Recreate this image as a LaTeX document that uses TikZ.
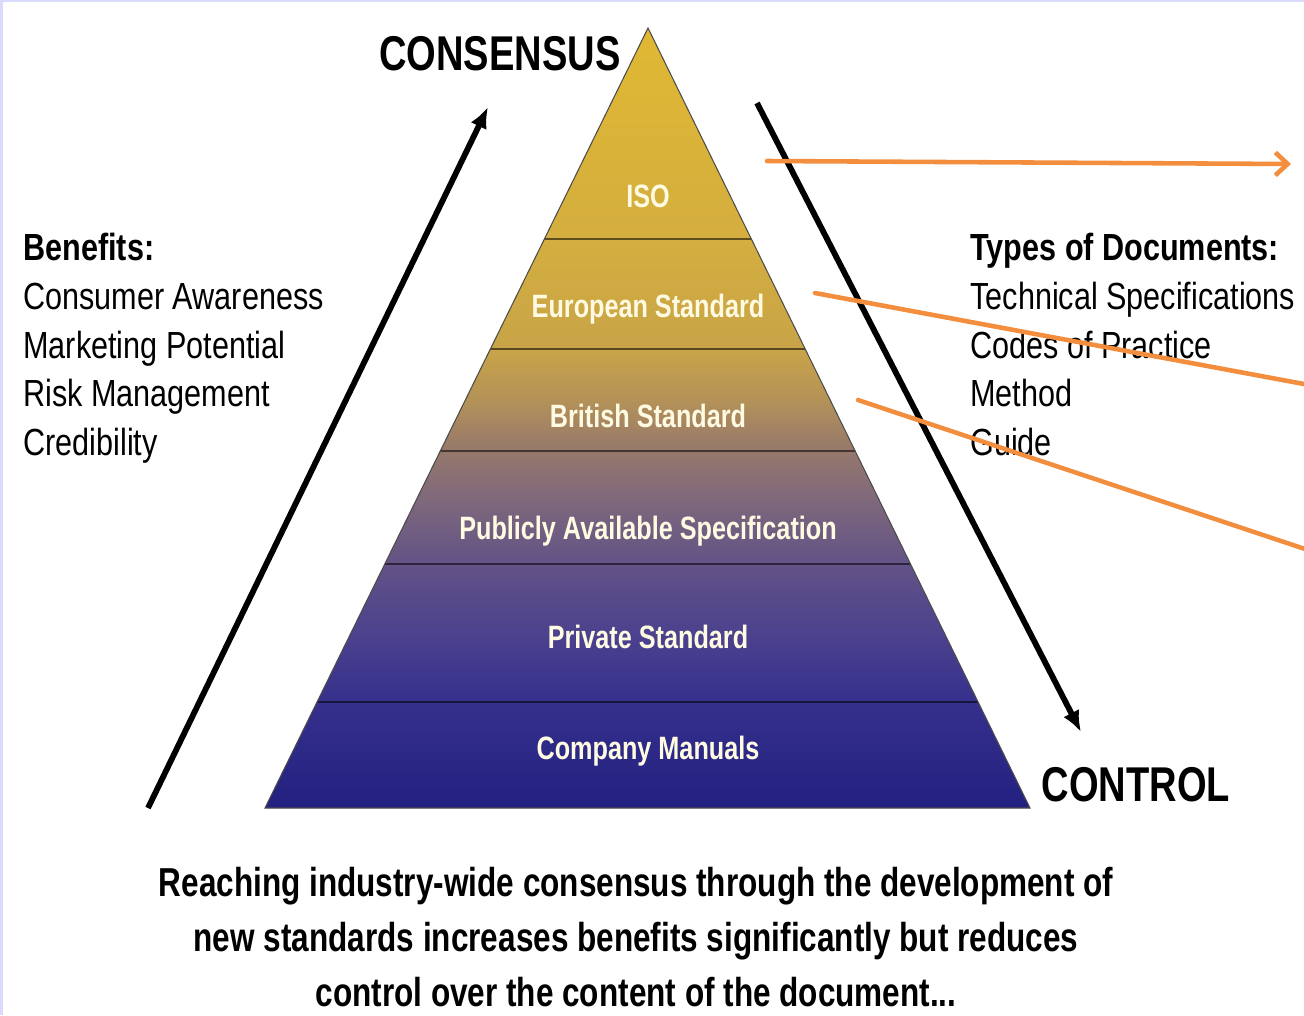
\documentclass[tikz,border=0pt]{standalone}
\usepackage{fontspec}
\setmainfont{Liberation Sans}
\newfontfamily\condfont[FakeStretch=0.78]{Liberation Sans}
\newfontfamily\listfont[FakeStretch=0.81]{Liberation Sans}
\usepackage{tikz}
\usetikzlibrary{shapes,arrows,arrows.meta,positioning}

\definecolor{frame}{RGB}{218,218,252}
\definecolor{pyrTop}{RGB}{224,184,52}
\definecolor{pyrIso}{RGB}{212,174,62}
\definecolor{pyrEuro}{RGB}{200,164,72}
\definecolor{pyrBrit}{RGB}{180,146,88}
\definecolor{pyrPas}{RGB}{150,120,108}
\definecolor{pyrMid}{RGB}{126,104,124}
\definecolor{pyrPriv}{RGB}{98,82,134}
\definecolor{pyrDeep}{RGB}{74,64,142}
\definecolor{pyrComp}{RGB}{54,48,140}
\definecolor{pyrBase}{RGB}{34,32,128}
\definecolor{labelcream}{RGB}{255,250,226}
\definecolor{pointerorange}{RGB}{242,142,62}

\pgfdeclareverticalshading{pyramid}{100bp}{color(0bp)=(pyrBase); color(25bp)=(pyrBase);
  color(31.8bp)=(pyrComp); color(35.8bp)=(pyrDeep); color(40.6bp)=(pyrPriv);
  color(44.7bp)=(pyrMid); color(47.9bp)=(pyrPas); color(51.2bp)=(pyrBrit);
  color(54.4bp)=(pyrEuro); color(61.4bp)=(pyrIso); color(75bp)=(pyrTop); color(100bp)=(pyrTop)}

\tikzstyle{layer} = [text=labelcream, font=\condfont\bfseries\fontsize{18.4}{22}\selectfont,
    anchor=base, inner sep=0pt]
\tikzstyle{heading} = [font=\condfont\bfseries\fontsize{27.8}{33}\selectfont, anchor=base, inner sep=0pt]
\tikzstyle{list} = [font=\listfont\fontsize{21.5}{27.7}\selectfont, align=left, anchor=north west, inner sep=0pt]
\tikzstyle{caption} = [font=\condfont\bfseries\fontsize{23}{31.2}\selectfont, align=center, anchor=north, inner sep=0pt]
\tikzstyle{trend} = [draw, line width=3.3pt, -{Latex[length=12pt,width=10pt]}]
\tikzstyle{pointer} = [draw, pointerorange, line width=2.6pt, line cap=round]
\tikzstyle{layerline} = [draw, black, opacity=0.55, line width=1.5pt]

\begin{document}
\begin{tikzpicture}[x=0.02cm, y=-0.02cm]
    \useasboundingbox (0,0) rectangle (1304,1015);
    \fill [frame] (0,0) rectangle (1304,1015);
    \fill [white] (3,2) rectangle (1304,1015);

    % Pyramid
    \begin{scope}
        \clip (648,28) -- (1030,808) -- (265,808) -- cycle;
        \shade [shading=pyramid] (265,28) rectangle (1030,808);
        \foreach \y in {239,349,451,564,702}
            \draw [layerline] (250,\y) -- (1050,\y);
    \end{scope}
    \draw [black!70, line width=0.6pt] (648,28) -- (1030,808) -- (265,808) -- cycle;

    % Place nodes
    \node [layer] (iso) at (648,207) {ISO};
    \node [layer] (euro) at (648,317) {European Standard};
    \node [layer] (brit) at (648,427) {British Standard};
    \node [layer] (pas) at (648,539) {Publicly Available Specification};
    \node [layer] (priv) at (648,648) {Private Standard};
    \node [layer] (comp) at (648,759) {Company Manuals};

    \node [heading] (consensus) at (500,70) {CONSENSUS};
    \node [heading] (control) at (1136,801) {CONTROL};

    \node [list] (benefits) at (23,233) {\textbf{Benefits:}\\Consumer Awareness\\Marketing Potential\\Risk Management\\Credibility};
    \node [list] (types) at (970,233) {\textbf{Types of Documents:}\\Technical Specifications\\Codes of Practice\\Method\\Guide};

    \node [caption] (summary) at (636,867) {Reaching industry-wide consensus through the development of\\new standards increases benefits significantly but reduces\\control over the content of the document...};

    % Arrow ends
    \coordinate (up-from) at (148,808);
    \coordinate (up-to) at (488,107);
    \coordinate (down-from) at (757,103);
    \coordinate (down-to) at (1081,732);
    \coordinate (iso-from) at (767,161);
    \coordinate (iso-to) at (1291,164);
    \coordinate (euro-from) at (815,293);
    \coordinate (euro-to) at (1320,387);
    \coordinate (brit-from) at (858,400);
    \coordinate (brit-to) at (1320,554);

    % Draw edges
    \path [trend] (up-from) -- (up-to);
    \path [trend] (down-from) -- (down-to);
    \path [pointer, -{Straight Barb[length=7pt,width=13pt]}] (iso-from) -- (iso-to);
    \path [pointer] (euro-from) -- (euro-to);
    \path [pointer] (brit-from) -- (brit-to);

\end{tikzpicture}
\end{document}
